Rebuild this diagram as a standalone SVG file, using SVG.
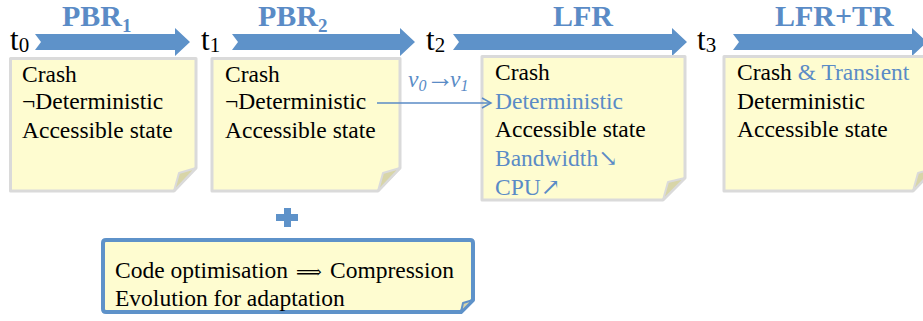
<svg xmlns="http://www.w3.org/2000/svg" width="923" height="321" viewBox="0 0 923 321">
<style>
.arr{fill:#5e92c9}
.note{fill:#fefcd0;stroke:#dadada;stroke-width:3;stroke-linejoin:round}
.fold{fill:#d8d5a8;stroke:#dadada;stroke-width:2;stroke-linejoin:round}
.tx{font-family:"Liberation Serif","Times New Roman",Tinos,"DejaVu Serif",serif;font-size:23.5px;fill:#000}
.bl{fill:#5a8bc6}
.ttl{font-family:"Liberation Serif","Times New Roman",Tinos,"DejaVu Serif",serif;font-size:30px;font-weight:bold;fill:#5a8bc6}
.tl{font-family:"Liberation Serif","Times New Roman",Tinos,"DejaVu Serif",serif;font-size:31px;fill:#000}
</style>
<defs>
<marker id="open" markerWidth="12" markerHeight="12" refX="10" refY="6" orient="auto" markerUnits="userSpaceOnUse">
<path d="M1,1 L10,6 L1,11" fill="none" stroke="#5a8bc6" stroke-width="1.5"/>
</marker>
</defs>

<g id="timeline">
<path class="arr" d="M35,34 H175 V28 L190,42 L175,56 V50 H35 L41,42 Z"/>
<path class="arr" d="M232,34 H400 V28 L415,42 L400,56 V50 H232 L238,42 Z"/>
<path class="arr" d="M453,34 H672 V28 L687,42 L672,56 V50 H453 L459,42 Z"/>
<path class="arr" d="M733,34 H912 V28 L927,42 L912,56 V50 H733 L739,42 Z"/>
<text class="tl" x="10" y="50">t<tspan font-size="21" dy="2">0</tspan></text>
<text class="tl" x="201" y="50">t<tspan font-size="21" dy="2">1</tspan></text>
<text class="tl" x="426" y="50">t<tspan font-size="21" dy="2">2</tspan></text>
<text class="tl" x="697" y="50">t<tspan font-size="21" dy="2">3</tspan></text>
<text class="ttl" x="62" y="26">PBR<tspan font-size="19" dy="6">1</tspan></text>
<text class="ttl" x="258" y="26">PBR<tspan font-size="19" dy="6">2</tspan></text>
<text class="ttl" x="553" y="26">LFR</text>
<text class="ttl" x="775" y="26">LFR+TR</text>
</g>

<g id="note1">
<path class="note" d="M10.5,58.5 H196 V168 L174,191 H10.5 Z"/>
<path class="fold" d="M196,168 L179,173 L174,191 Z"/>
<text class="tx" x="22" y="82">Crash</text>
<text class="tx" x="22" y="109">¬Deterministic</text>
<text class="tx" x="22" y="137.5">Accessible state</text>
</g>

<g id="note2">
<path class="note" d="M212,58.5 H400 V168 L378,191 H212 Z"/>
<path class="fold" d="M400,168 L383,173 L378,191 Z"/>
<text class="tx" x="225" y="82">Crash</text>
<text class="tx" x="225" y="109">¬Deterministic</text>
<text class="tx" x="225" y="137.5">Accessible state</text>
</g>

<g id="note3">
<path class="note" d="M482,56.5 H685 V178 L663,200 H482 Z"/>
<path class="fold" d="M685,178 L668,182 L663,200 Z"/>
<text class="tx" x="495" y="80">Crash</text>
<text class="tx bl" x="495" y="108.5">Deterministic</text>
<text class="tx" x="495" y="137">Accessible state</text>
<text class="tx bl" x="495" y="166">Bandwidth↘</text>
<text class="tx bl" x="495" y="194.5">CPU↗</text>
</g>

<g id="note4">
<path class="note" d="M724,56.5 H935 V168 L913,191 H724 Z"/>
<path class="fold" d="M935,168 L918,173 L913,191 Z"/>
<text class="tx" x="737" y="80">Crash <tspan class="bl">&amp; Transient</tspan></text>
<text class="tx" x="737" y="108.5">Deterministic</text>
<text class="tx" x="737" y="137">Accessible state</text>
</g>

<g id="connectors">
<line x1="377" y1="103" x2="491" y2="103" stroke="#5a8bc6" stroke-width="1.5" marker-end="url(#open)"/>
<text class="tx bl" y="87"><tspan x="408" font-style="italic">v</tspan><tspan font-style="italic" font-size="16" dy="4">0</tspan><tspan x="426" dy="-4" font-size="28">→</tspan><tspan x="450" font-style="italic">v</tspan><tspan font-style="italic" font-size="16" dy="4">1</tspan></text>
</g>

<g id="plus">
<path class="arr" d="M284,208 H291 V214 H298 V221 H291 V227 H284 V221 H276 V214 H284 Z"/>
</g>

<g id="extras">
<path d="M106,240 H470 Q473,240 473,243 V300 L461,312 H106 Q103,312 103,309 V243 Q103,240 106,240 Z" fill="#fefcd0" stroke="#5e92c9" stroke-width="4" stroke-linejoin="round"/>
<path d="M473,300 L463,303 L461,312 Z" fill="#d8d5a8" stroke="#5e92c9" stroke-width="2" stroke-linejoin="round"/>
<text class="tx" y="278"><tspan x="115">Code optimisation</tspan><tspan x="296" font-size="18">⟹</tspan><tspan x="330">Compression</tspan></text>
<text class="tx" x="115" y="306">Evolution for adaptation</text>
</g>
</svg>
